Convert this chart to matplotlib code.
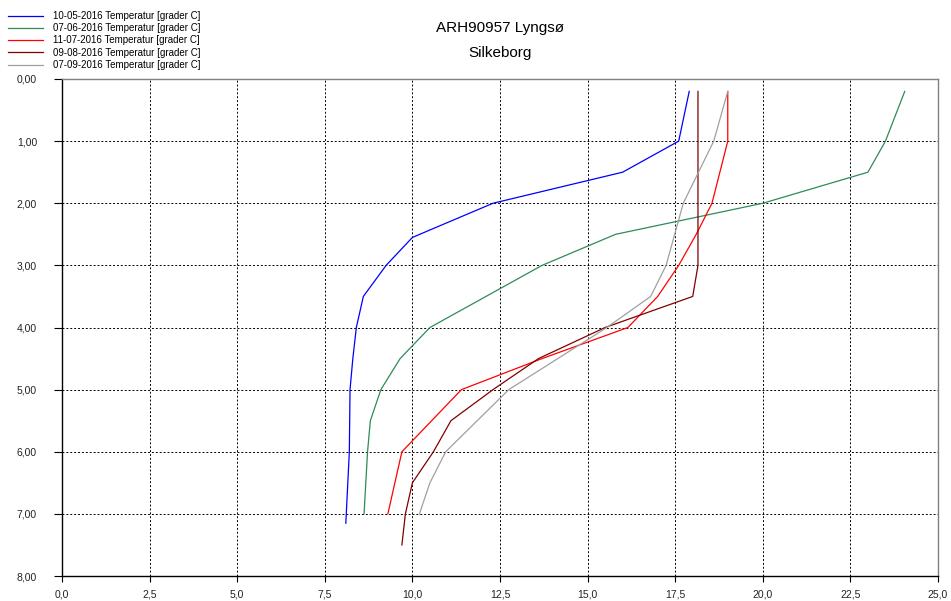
import matplotlib.pyplot as plt
from matplotlib.ticker import FuncFormatter, MultipleLocator

plt.rcParams['font.family'] = ['Liberation Sans', 'DejaVu Sans']

# dybder [m] og temperaturer [grader C]
labels = ['10-05-2016 Temperatur [grader C]',
          '07-06-2016 Temperatur [grader C]',
          '11-07-2016 Temperatur [grader C]',
          '09-08-2016 Temperatur [grader C]',
          '07-09-2016 Temperatur [grader C]']

d_maj = [0.2, 1.0, 1.5, 2.0, 2.55, 3.0, 3.5, 4.0, 4.5, 5.0, 6.0, 7.15]
t_maj = [17.9, 17.6, 16.0, 12.3, 10.0, 9.25, 8.6, 8.4, 8.3, 8.22, 8.2, 8.1]

d_jun = [0.2, 1.0, 1.5, 2.0, 2.5, 3.0, 4.0, 4.5, 5.0, 5.5, 6.0, 7.0]
t_jun = [24.05, 23.5, 23.0, 20.0, 15.8, 13.7, 10.5, 9.65, 9.1, 8.8, 8.72, 8.62]

d_jul = [0.2, 1.0, 2.0, 2.5, 3.0, 3.5, 4.0, 4.5, 5.0, 6.0, 7.0]
t_jul = [19.0, 19.0, 18.55, 18.1, 17.6, 17.0, 16.15, 13.7, 11.4, 9.7, 9.3]

d_aug = [0.2, 1.0, 2.0, 3.0, 3.5, 4.0, 4.5, 5.0, 5.5, 6.0, 6.5, 7.0, 7.5]
t_aug = [18.15, 18.15, 18.15, 18.15, 18.0, 15.5, 13.6, 12.3, 11.1, 10.6, 10.0, 9.8, 9.7]

d_sep = [0.2, 1.0, 2.0, 3.0, 3.5, 4.0, 4.5, 5.0, 6.0, 6.5, 7.0]
t_sep = [19.0, 18.6, 17.73, 17.24, 16.8, 15.55, 14.15, 12.75, 10.95, 10.5, 10.2]

farver = ['#0000ff', '#2e8b57', '#ff0000', '#800000', '#a0a0a0']

fig = plt.figure(figsize=(9.51, 6.01), dpi=100)
ax = fig.add_axes([62/951, 25/601, 876/951, 497/601])

serier = [(t_maj, d_maj), (t_jun, d_jun), (t_jul, d_jul), (t_aug, d_aug), (t_sep, d_sep)]
handles = []
for (t, d), c, lab in zip(serier, farver, labels):
    h, = ax.plot(t, d, color=c, linewidth=0.9, label=lab)
    handles.append(h)

ax.set_xlim(0, 25)
ax.set_ylim(8, 0)
ax.xaxis.set_major_locator(MultipleLocator(2.5))
ax.yaxis.set_major_locator(MultipleLocator(1.0))
ax.xaxis.set_major_formatter(FuncFormatter(lambda v, p: ('%.1f' % v).replace('.', ',')))
ax.yaxis.set_major_formatter(FuncFormatter(lambda v, p: ('%.2f' % v).replace('.', ',')))
ax.grid(True, color='black', linestyle=(0, (2, 2)), linewidth=0.7)

ax.tick_params(axis='y', length=6, width=0.8, pad=12, labelsize=7.5, colors='black')
ax.tick_params(axis='x', length=4, width=0.8, pad=6, labelsize=7.5, colors='black')
for lab in ax.get_xticklabels() + ax.get_yticklabels():
    lab.set_color('#222222')

ax.spines['left'].set_color('black')
ax.spines['bottom'].set_color('black')
ax.spines['top'].set_color('#808080')
ax.spines['right'].set_color('#808080')
for s in ax.spines.values():
    s.set_linewidth(1.0)

fig.text(500/951, 1 - 32/601, 'ARH90957 Lyngsø', ha='center', va='baseline', fontsize=11)
fig.text(500/951, 1 - 57/601, 'Silkeborg', ha='center', va='baseline', fontsize=11)

fig.legend(handles=handles, loc='upper left', bbox_to_anchor=(8/951, 1 - 11/601),
           frameon=False, fontsize=7, borderaxespad=0, borderpad=0,
           handlelength=3.6, handletextpad=1.0, labelspacing=0.23)

fig.savefig('out.png', dpi=100)
